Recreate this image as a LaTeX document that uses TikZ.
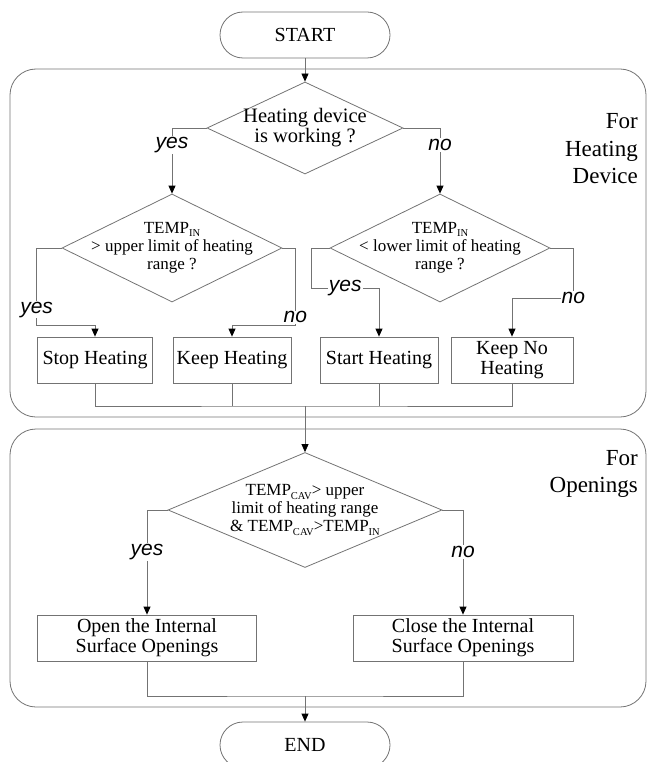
\documentclass[tikz,border=0pt]{standalone}
\usepackage{fontspec}
\setmainfont{Liberation Serif}
\newfontfamily\labelfont{Liberation Sans}
\usetikzlibrary{shapes.geometric,arrows.meta}
\newcommand{\lsub}[1]{\raisebox{-0.4ex}{\fontsize{10.5}{10.5}\selectfont #1}}
\tikzset{
  grayline/.style={draw=black!55, line width=0.8pt},
  flow/.style={grayline, -{Triangle[color=black,length=8pt,width=7pt]}},
  terminal/.style={grayline, rectangle, rounded corners=23pt, minimum width=170pt, minimum height=46pt, font=\fontsize{20}{20}\selectfont},
  process/.style={grayline, rectangle, minimum height=46pt, align=center, inner sep=0pt, font=\fontsize{20}{20}\selectfont},
  decision/.style={grayline, diamond, inner sep=0pt},
  dtext/.style={align=center, font=\fontsize{17}{18}\selectfont},
  group/.style={grayline, rectangle, rounded corners=26pt},
  lbl/.style={fill=white, inner sep=1pt, font=\labelfont\itshape\fontsize{21}{21}\selectfont},
  grouptitle/.style={align=right, anchor=east, inner sep=0pt, font=\fontsize{23}{27.5}\selectfont},
}
\begin{document}
\begin{tikzpicture}[x=1pt,y=-1pt]
\clip (0,0) rectangle (651,762);
\node[group, minimum width=636pt, minimum height=348pt] (heatbox) at (328,243) {};
\node[group, minimum width=636pt, minimum height=278pt] (openbox) at (328,568) {};
\node[grouptitle] (heattitle) at (638,149) {For\\Heating\\Device};
\node[grouptitle] (opentitle) at (638,474) {For\\Openings};

\node[terminal] (start) at (305,35) {START};
\node[decision, minimum width=196pt, minimum height=92pt,
  label={[dtext, font=\fontsize{20.5}{20}\selectfont]center:{Heating device\\is working ?}}] (work) at (305,128) {};
\node[decision, minimum width=220pt, minimum height=108pt,
  label={[dtext]center:{TEMP\lsub{IN}\\> upper limit of heating\\range ?}}] (upper) at (172,248) {};
\node[decision, minimum width=220pt, minimum height=108pt,
  label={[dtext]center:{TEMP\lsub{IN}\\< lower limit of heating\\range ?}}] (lower) at (440,248) {};
\node[process, minimum width=115pt] (stop) at (95,360) {Stop Heating};
\node[process, minimum width=118pt] (keep) at (232,360) {Keep Heating};
\node[process, minimum width=118pt] (starth) at (379,360) {Start Heating};
\node[process, minimum width=122pt] (keepno) at (512,360) {Keep No\\Heating};
\node[decision, minimum width=274pt, minimum height=115pt,
  label={[dtext]center:{TEMP\lsub{CAV}> upper\\limit of heating range\\\& TEMP\lsub{CAV}>TEMP\lsub{IN}}}] (cavity) at (305,510) {};
\node[process, minimum width=219pt] (open) at (147,638) {Open the Internal\\Surface Openings};
\node[process, minimum width=220pt] (close) at (463,638) {Close the Internal\\Surface Openings};
\node[terminal] (end) at (305,745) {END};
\coordinate (merge1) at (305,406);
\coordinate (merge2) at (305,696);

\draw[flow] (start) -- (work);
\draw[flow] (work.west) -| node[lbl,pos=0.63]{yes} (upper.north);
\draw[flow] (work.east) -| node[lbl,pos=0.63]{no} (lower.north);
\draw[flow] (upper.west) -- ++(-25,0) -- node[lbl,pos=0.8]{yes} ++(0,77) -| (stop.north);
\draw[flow] (upper.east) -- ++(13,0) -- node[lbl,pos=0.9]{no} ++(0,77) -| (keep.north);
\draw[flow] (lower.west) -- ++(-18,0) -- ++(0,40) -| node[lbl,pos=0.25]{yes} (starth.north);
\draw[flow] (lower.east) -- ++(23,0) -- ++(0,50) node[lbl]{no} -| (keepno.north);
\draw[grayline] (stop.south) |- (merge1) -| (keepno.south);
\draw[grayline] (keep.south) -- (keep.south |- merge1);
\draw[grayline] (starth.south) -- (starth.south |- merge1);
\draw[flow] (merge1) -- (cavity.north);
\draw[flow] (cavity.west) -| node[lbl,pos=0.7]{yes} (open.north);
\draw[flow] (cavity.east) -| node[lbl,pos=0.7]{no} (close.north);
\draw[grayline] (open.south) |- (merge2) -| (close.south);
\draw[flow] (merge2) -- (end);
\end{tikzpicture}
\end{document}
